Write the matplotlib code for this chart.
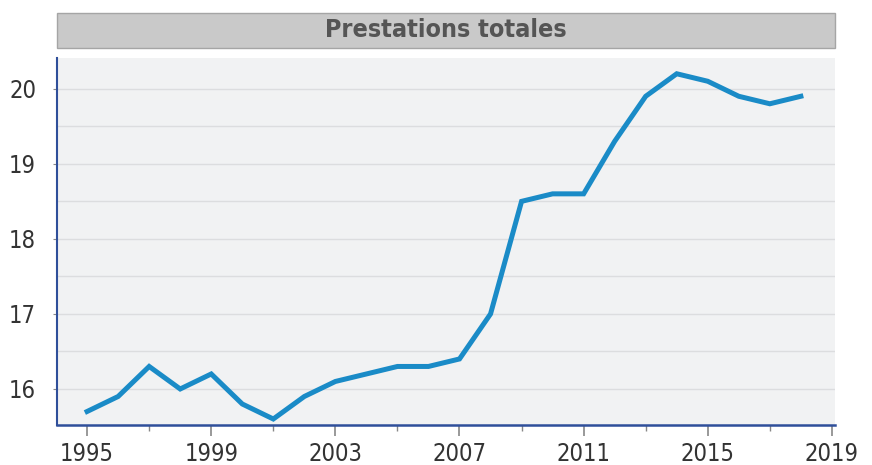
import numpy as np
import matplotlib.pyplot as plt
from matplotlib.patches import Rectangle
from matplotlib.ticker import MultipleLocator

# Prestations totales par année
years = list(range(1995, 2019))
values = [15.7, 15.9, 16.3, 16.0, 16.2, 15.8, 15.6, 15.9, 16.1, 16.2, 16.3, 16.3,
          16.4, 17.0, 18.5, 18.6, 18.6, 19.3, 19.9, 20.2, 20.1, 19.9, 19.8, 19.9]
title = "Prestations totales"

plt.rcParams['font.family'] = ['DejaVu Sans']
plt.rcParams['font.stretch'] = 'condensed'

fig = plt.figure(figsize=(8.72, 4.65), dpi=100)
ax = fig.add_axes([57 / 872, 1 - 425 / 465, (835 - 57) / 872, (425 - 58) / 465])
ax.set_facecolor('#f1f2f3')

ax.plot(years, values, color='#1a8bc7', linewidth=3.6, solid_joinstyle='miter')

ax.set_xlim(1994.03, 2019.1)
ax.set_ylim(15.52, 20.41)
ax.yaxis.set_major_locator(MultipleLocator(1))
ax.yaxis.set_minor_locator(MultipleLocator(0.5))
ax.set_xticks(range(1995, 2020, 4))
ax.set_xticks(range(1997, 2019, 4), minor=True)

ax.grid(True, which='both', axis='y', color='#dcdddf', linewidth=1.0)
ax.set_axisbelow(True)

for s in ['top', 'right']:
    ax.spines[s].set_visible(False)
ax.spines['left'].set_color('#2f4f9a')
ax.spines['bottom'].set_color('#2f4f9a')
ax.spines['left'].set_linewidth(1.5)
ax.spines['bottom'].set_linewidth(1.8)

ax.tick_params(axis='x', which='major', length=8, width=1.2, color='#888888',
               labelsize=17, labelcolor='#333333', pad=4)
ax.tick_params(axis='x', which='minor', length=4, width=1.0, color='#888888')
ax.tick_params(axis='y', which='major', length=3, width=0.8, color='#888888',
               labelsize=17, labelcolor='#333333', pad=12)
ax.tick_params(axis='y', which='minor', length=0)

# bandeau du titre
fig.patches.append(Rectangle((57 / 872, 1 - 48 / 465), (835 - 57) / 872, 35 / 465,
                             transform=fig.transFigure, facecolor='#c9c9c9',
                             edgecolor='#a5a5a5', linewidth=1.0))
fig.text((57 + 835) / 2 / 872, 1 - 30 / 465, title, ha='center', va='center',
         fontsize=18, fontweight='bold', color='#555555')

fig.savefig('out.png', dpi=100)
